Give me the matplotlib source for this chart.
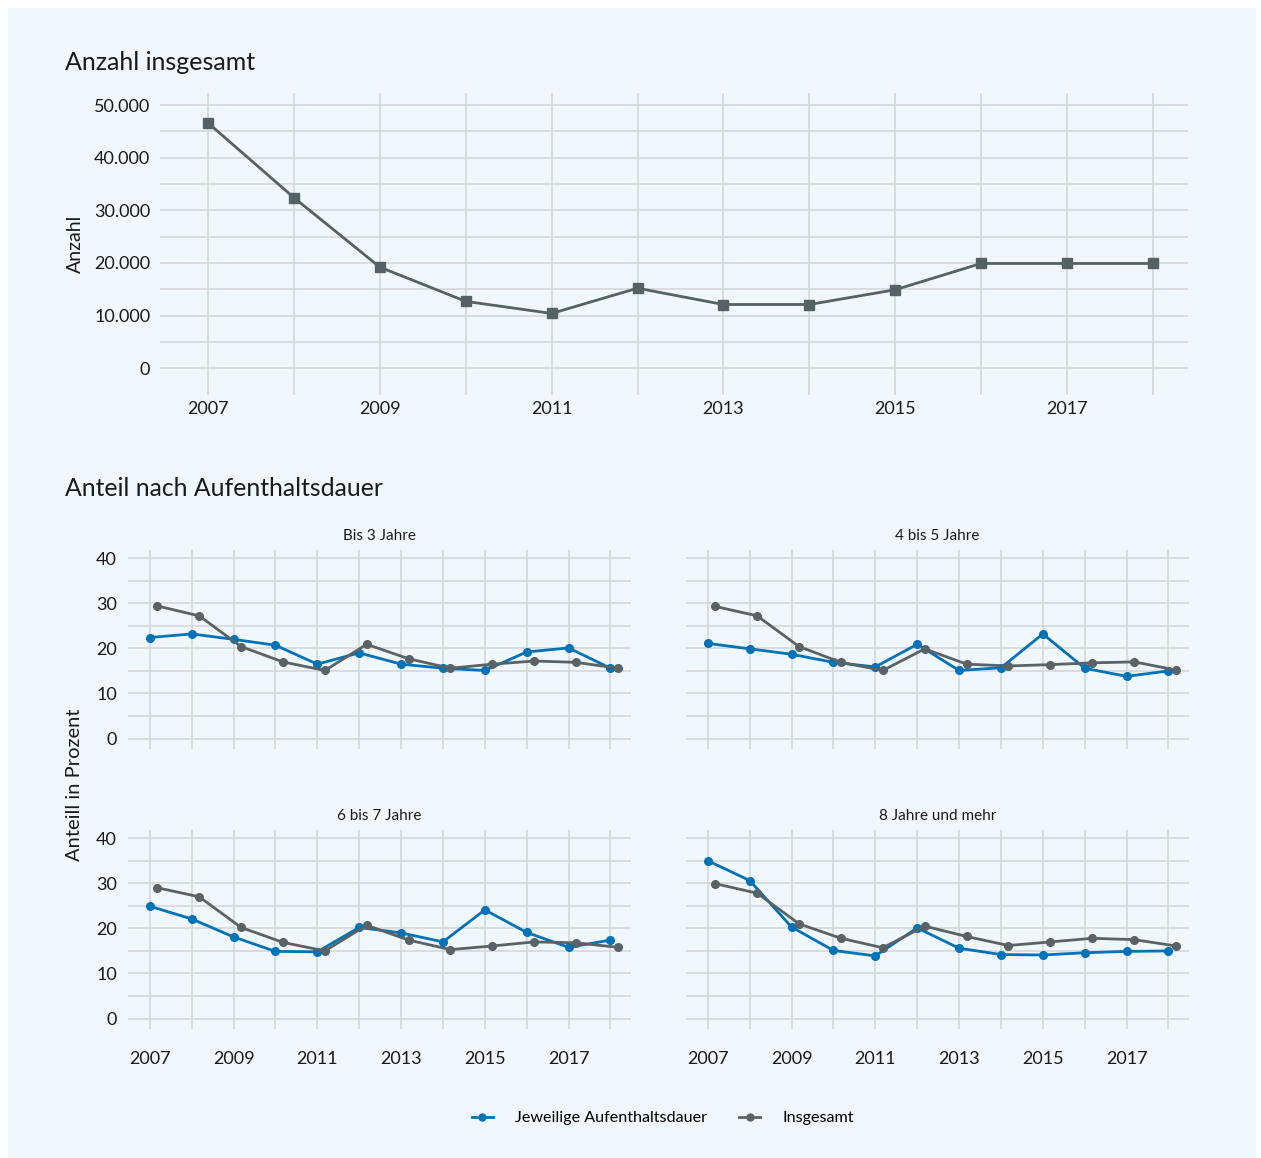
import matplotlib.pyplot as plt
from matplotlib.patches import Rectangle
from matplotlib.lines import Line2D
import numpy as np

plt.rcParams['font.family'] = ['Lato', 'DejaVu Sans']

# ---- data -------------------------------------------------------------
years = list(range(2007, 2019))

anzahl = [46600, 32400, 19200, 12700, 10400, 15200,
          12100, 12100, 14900, 19900, 19900, 19900]

facet_titles = ["Bis 3 Jahre", "4 bis 5 Jahre", "6 bis 7 Jahre", "8 Jahre und mehr"]

anteil_dauer = [
    [22.4, 23.2, 22.0, 20.7, 16.5, 19.0, 16.5, 15.6, 15.1, 19.2, 20.1, 15.6],
    [21.1, 19.9, 18.7, 16.9, 15.9, 20.9, 15.1, 15.7, 23.2, 15.6, 13.8, 15.0],
    [24.9, 22.1, 18.1, 14.9, 14.8, 20.2, 19.0, 17.0, 24.1, 19.1, 15.8, 17.4],
    [35.0, 30.6, 20.3, 15.1, 13.9, 20.1, 15.6, 14.2, 14.1, 14.6, 14.9, 15.0],
]
anteil_gesamt = [
    [29.4, 27.2, 20.4, 17.0, 15.1, 20.9, 17.7, 15.6, 16.5, 17.2, 16.9, 15.6],
    [29.3, 27.2, 20.4, 16.9, 15.1, 19.9, 16.5, 16.1, 16.4, 16.8, 17.0, 15.2],
    [29.0, 27.0, 20.2, 16.9, 15.0, 20.7, 17.4, 15.3, 16.1, 17.0, 16.8, 15.8],
    [29.9, 27.8, 21.0, 17.8, 15.7, 20.5, 18.2, 16.2, 17.0, 17.8, 17.5, 16.1],
]

BG = "#f0f8fe"
GRID = "#d2d6d9"
BLUE = "#0072b7"
GREY = "#596266"
TOPLINE = "#546166"
TXT = "#1a1a1a"

W, H = 1261, 1158
fig = plt.figure(figsize=(W / 100, H / 100), dpi=100)
fig.patch.set_facecolor("white")
fig.patches.append(Rectangle((8 / W, 0), (1256 - 8) / W, (1150 - 0) / H,
                             transform=fig.transFigure, facecolor=BG,
                             edgecolor="none", zorder=-10))


def px_axes(x0, y0, x1, y1):
    return fig.add_axes([x0 / W, 1 - y1 / H, (x1 - x0) / W, (y1 - y0) / H])


def style(ax, xlim, ylim, yticks, yminor):
    ax.set_facecolor("none")
    for s in ax.spines.values():
        s.set_visible(False)
    ax.set_xlim(*xlim)
    ax.set_ylim(*ylim)
    ax.set_xticks(years[::2])
    ax.set_xticks(years[1::2], minor=True)
    ax.set_yticks(yticks)
    ax.set_yticks(yminor, minor=True)
    ax.grid(True, which="both", color=GRID, linewidth=1.1, zorder=0)
    ax.tick_params(which="both", length=0, labelsize=13, colors=TXT)
    ax.set_axisbelow(True)


# ---- top chart ----------------------------------------------------------
fig.text(65 / W, 1 - 62 / H, "Anzahl insgesamt", fontsize=18, color=TXT,
         va="center", ha="left")
ax = px_axes(160, 93, 1188, 395)
style(ax, (2006.44, 2018.41), (-5100, 52300),
      np.arange(0, 50001, 10000), np.arange(5000, 50000, 10000))
ax.plot(years, anzahl, color=TOPLINE, linewidth=2, marker="s", markersize=6.5,
        zorder=3)
ax.set_yticklabels([f"{v:,}".replace(",", ".") for v in range(0, 50001, 10000)])
ax.tick_params(axis="y", pad=7)
ax.tick_params(axis="x", pad=4)
ax.set_ylabel("Anzahl", fontsize=14, color=TXT, labelpad=7)

# ---- facets -------------------------------------------------------------
fig.text(65 / W, 1 - 489 / H, "Anteil nach Aufenthaltsdauer", fontsize=17.8,
         color=TXT, va="center", ha="left")

boxes = [(128, 550, 631, 749), (686, 550, 1189, 749),
         (128, 830, 631, 1029), (686, 830, 1189, 1029)]
dodge = 0.18
for i, (x0, y0, x1, y1) in enumerate(boxes):
    ax = px_axes(x0, y0, x1, y1)
    style(ax, (2006.48, 2018.49), (-2.3, 41.8),
          [0, 10, 20, 30, 40], [5, 15, 25, 35])
    ax.plot(years, anteil_dauer[i], color=BLUE, linewidth=2, marker="o",
            markersize=5.5, zorder=3)
    ax.plot(np.array(years) + dodge, anteil_gesamt[i], color=GREY,
            linewidth=2, marker="o", markersize=5.5, zorder=4)
    ax.set_title(facet_titles[i], fontsize=11, color=TXT, pad=7)
    if i % 2 == 1:
        ax.set_yticklabels([])
    else:
        ax.tick_params(axis="y", pad=8, labelsize=13)
    if i < 2:
        ax.set_xticklabels([])
    else:
        ax.tick_params(axis="x", pad=16, labelsize=13)

fig.text(75 / W, 1 - 785 / H, "Anteill in Prozent", rotation=90, fontsize=14.5,
         color=TXT, va="center", ha="center")

handles = [Line2D([], [], color=BLUE, linewidth=2, marker="o", markersize=5),
           Line2D([], [], color=GREY, linewidth=2, marker="o", markersize=5)]
fig.legend(handles, ["Jeweilige Aufenthaltsdauer", "Insgesamt"],
           loc="center", bbox_to_anchor=(663 / W, 1 - 1118 / H), ncol=2,
           frameon=False, fontsize=11.6, handlelength=1.3, columnspacing=2.0,
           handletextpad=1.4)

fig.savefig("out.png", dpi=100, facecolor=fig.get_facecolor())
